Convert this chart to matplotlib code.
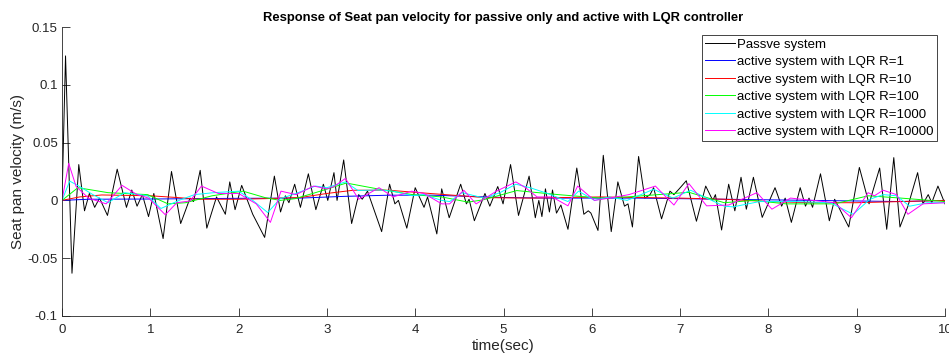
import matplotlib
matplotlib.use("Agg")
import matplotlib.pyplot as plt
from matplotlib.ticker import FixedLocator, FuncFormatter

plt.rcParams['font.family'] = ['Liberation Sans', 'DejaVu Sans']
plt.rcParams['axes.unicode_minus'] = False

title = "Response of Seat pan velocity for passive only and active with LQR controller"
xlabel = "time(sec)"
ylabel = "Seat pan velocity (m/s)"
labels = ["Passve system", "active system with LQR R=1", "active system with LQR R=10",
          "active system with LQR R=100", "active system with LQR R=1000",
          "active system with LQR R=10000"]
xticks = list(range(0, 11))
yticks = [-0.1, -0.05, 0, 0.05, 0.1, 0.15]

# (time, velocity) pairs
passive = [
    (0, 0), (0.04, 0.125), (0.113, -0.063), (0.19, 0.031), (0.255, -0.009), (0.31, 0.006),
    (0.37, -0.006), (0.425, 0.002), (0.515, -0.013), (0.625, 0.027), (0.73, -0.006),
    (0.79, 0.009), (0.85, -0.005), (0.91, 0.005), (0.98, -0.014), (1.04, 0.006),
    (1.145, -0.033), (1.24, 0.025), (1.344, -0.020), (1.45, 0.002), (1.49, -0.001),
    (1.565, 0.026), (1.64, -0.024), (1.75, 0.003), (1.85, -0.012), (1.90, 0.016),
    (1.96, -0.008), (2.035, 0.013), (2.16, -0.012), (2.295, -0.032), (2.405, 0.021),
    (2.475, -0.010), (2.53, 0.004), (2.57, -0.002), (2.635, 0.014), (2.70, -0.006),
    (2.79, 0.023), (2.875, -0.008), (2.96, 0.014), (3.01, 0.0), (3.08, 0.024),
    (3.115, 0.0), (3.19, 0.035), (3.28, -0.020), (3.36, 0.005), (3.40, 0.001),
    (3.46, 0.008), (3.62, -0.027), (3.71, 0.014), (3.77, -0.003), (3.81, 0.0),
    (3.905, -0.024), (4.0, 0.011), (4.10, -0.006), (4.14, 0.003), (4.245, -0.029),
    (4.30, 0.010), (4.385, -0.015), (4.515, 0.014), (4.58, -0.003), (4.61, 0.001),
    (4.67, -0.0176), (4.79, 0.006), (4.845, -0.005), (4.935, 0.012), (4.995, -0.003),
    (5.08, 0.031), (5.17, -0.013), (5.29, 0.021), (5.36, -0.015), (5.40, 0.0),
    (5.435, -0.014), (5.475, 0.010), (5.52, -0.010), (5.555, 0.009), (5.60, -0.011),
    (5.65, -0.004), (5.73, -0.025), (5.83, 0.028), (5.91, -0.012), (5.96, -0.009),
    (5.99, -0.011), (6.07, -0.026), (6.13, 0.039), (6.22, -0.027), (6.295, 0.016),
    (6.37, -0.005), (6.41, -0.003), (6.46, -0.023), (6.53, 0.038), (6.60, 0.002),
    (6.66, 0.005), (6.70, 0.011), (6.79, -0.016), (6.885, 0.008), (6.93, 0.005),
    (6.99, 0.010), (7.07, 0.017), (7.185, -0.018), (7.29, 0.0124), (7.37, 0.0),
    (7.40, 0.005), (7.47, -0.0256), (7.55, 0.014), (7.62, -0.009), (7.69, 0.020),
    (7.75, -0.0076), (7.83, 0.020), (7.93, -0.0147), (8.075, 0.011), (8.15, -0.005),
    (8.19, 0.002), (8.26, -0.019), (8.36, 0.011), (8.42, -0.005), (8.46, 0.002),
    (8.50, -0.006), (8.59, 0.023), (8.69, -0.0176), (8.75, 0.001), (8.91, -0.023),
    (9.03, 0.0285), (9.14, -0.003), (9.26, 0.028), (9.34, -0.025), (9.42, 0.037),
    (9.49, -0.023), (9.58, -0.005), (9.69, 0.024), (9.75, -0.003), (9.81, 0.005),
    (9.85, -0.002), (9.92, 0.0124), (10.0, -0.003),
]

lqr_r1 = [
    (0, 0), (0.3, 0.001), (1.0, 0.0012), (1.5, 0.0015), (2.0, 0.0018), (2.7, 0.002),
    (3.2, 0.0035), (3.7, 0.0045), (4.2, 0.0045), (4.6, 0.0035), (5.0, 0.0025),
    (5.5, 0.002), (6.2, 0.002), (6.5, 0.002), (7.0, 0.0015), (7.5, 0.001),
    (8.0, 0.0005), (8.5, 0.0), (9.0, -0.0005), (9.5, -0.001), (10.0, 0.0),
]

lqr_r10 = [
    (0, 0), (0.2, 0.003), (0.45, 0.0047), (1.0, 0.004), (1.3, 0.0025), (1.55, 0.001),
    (2.0, 0.001), (2.3, 0.0015), (2.7, 0.0025), (3.0, 0.006), (3.3, 0.0088),
    (3.7, 0.0088), (4.2, 0.0058), (4.8, 0.0024), (5.3, 0.002), (6.1, 0.003),
    (6.5, 0.0025), (7.0, 0.002), (7.5, 0.001), (8.0, -0.001), (8.5, -0.002),
    (9.0, -0.002), (9.5, -0.001), (10.0, 0.0),
]

lqr_r100 = [
    (0, 0), (0.18, 0.011), (0.52, 0.0067), (0.97, 0.005), (1.2, -0.003), (1.4, -0.002),
    (1.7, 0.004), (2.05, 0.008), (2.3, 0.0024), (2.47, 0.0), (2.64, 0.0015),
    (2.87, 0.0067), (3.22, 0.015), (3.6, 0.0096), (3.97, 0.005), (4.3, 0.003),
    (4.6, -0.0015), (4.77, 0.0005), (5.15, 0.0085), (5.62, 0.005), (6.1, 0.002),
    (6.4, 0.003), (6.75, 0.005), (7.1, 0.007), (7.5, -0.002), (7.83, 0.0),
    (8.2, -0.003), (8.75, -0.003), (9.13, 0.004), (9.5, 0.002), (10.0, -0.001),
]

lqr_r1000 = [
    (0, 0), (0.087, 0.0167), (0.2, 0.012), (0.35, 0.005), (0.52, -0.002), (0.71, 0.0067),
    (0.97, 0.004), (1.12, -0.007), (1.34, 0.0005), (1.5, 0.005), (1.72, 0.0067),
    (2.0, 0.008), (2.16, 0.0), (2.33, -0.0105), (2.47, 0.0014), (2.65, 0.006),
    (2.87, 0.0124), (3.0, 0.011), (3.21, 0.016), (3.35, 0.0086), (3.58, 0.009),
    (3.75, 0.008), (3.97, 0.004), (4.1, 0.005), (4.3, 0.0), (4.39, -0.001),
    (4.53, 0.0067), (4.78, 0.002), (4.96, 0.0067), (5.14, 0.014), (5.3, 0.011),
    (5.5, 0.006), (5.73, -0.001), (5.85, 0.008), (6.03, 0.0), (6.2, 0.003),
    (6.4, 0.0), (6.7, 0.0096), (6.92, 0.002), (7.12, 0.0088), (7.3, 0.002),
    (7.5, -0.005), (7.6, -0.0056), (7.9, -0.001), (8.3, -0.001), (8.7, -0.002),
    (8.96, -0.012), (9.15, 0.001), (9.3, 0.005), (9.45, 0.004), (9.6, -0.005),
    (9.8, -0.002), (10.0, -0.002),
]

lqr_r10000 = [
    (0, 0), (0.076, 0.032), (0.16, 0.012), (0.3, 0.002), (0.5, -0.003), (0.68, 0.013),
    (0.85, 0.005), (0.98, 0.002), (1.17, -0.0124), (1.3, -0.002), (1.45, -0.0005),
    (1.58, 0.0124), (1.77, 0.006), (2.0, 0.006), (2.2, -0.003), (2.36, -0.019),
    (2.48, 0.008), (2.65, 0.005), (2.85, 0.0124), (3.0, 0.010), (3.08, 0.012),
    (3.21, 0.019), (3.36, 0.001), (3.59, 0.011), (3.75, 0.003), (3.96, 0.008),
    (4.1, 0.006), (4.3, -0.003), (4.39, -0.003), (4.55, 0.0088), (4.69, -0.003),
    (4.92, 0.008), (5.14, 0.016), (5.25, 0.011), (5.38, 0.003), (5.55, 0.003),
    (5.73, -0.0047), (5.84, 0.0124), (6.03, 0.0), (6.2, 0.002), (6.42, 0.005),
    (6.72, 0.0124), (6.93, -0.004), (7.1, 0.0145), (7.3, -0.0047), (7.55, -0.004),
    (7.87, 0.0067), (8.04, -0.0076), (8.25, 0.002), (8.5, 0.0), (8.75, -0.002),
    (8.94, -0.015), (9.13, 0.0067), (9.2, 0.004), (9.3, 0.0088), (9.45, 0.005),
    (9.58, -0.012), (9.75, -0.003), (10.0, -0.002),
]

series = [passive, lqr_r1, lqr_r10, lqr_r100, lqr_r1000, lqr_r10000]
colors = ['#000000', '#0000ff', '#ff0000', '#00ff00', '#00ffff', '#ff00ff']

fig = plt.figure(figsize=(9.49, 3.58), dpi=100)
ax = fig.add_axes([62/949, 1 - 316/358, (945 - 62)/949, (316 - 27)/358])

for data, c, lab in zip(series, colors, labels):
    ts = [p[0] for p in data]
    vs = [p[1] for p in data]
    ax.plot(ts, vs, color=c, lw=0.7, label=lab)

ax.set_xlim(0, 10)
ax.set_ylim(-0.1, 0.15)
ax.xaxis.set_major_locator(FixedLocator(xticks))
ax.yaxis.set_major_locator(FixedLocator(yticks))
ax.yaxis.set_major_formatter(FuncFormatter(lambda v, p: "%g" % v))
for s in ['top', 'right']:
    ax.spines[s].set_visible(False)
for s in ['left', 'bottom']:
    ax.spines[s].set_color('#262626')
    ax.spines[s].set_linewidth(0.6)
ax.tick_params(direction='in', length=6, width=0.6, colors='#262626',
               labelsize=9.5, labelcolor='#262626')
ax.tick_params(axis='x', pad=6)
ax.tick_params(axis='y', pad=3)

ax.set_title(title, fontsize=9.4, fontweight='bold', pad=4)
ax.set_xlabel(xlabel, fontsize=11, color='#262626', labelpad=2)
ax.set_ylabel(ylabel, fontsize=11, color='#262626', labelpad=2)

leg = ax.legend(loc='upper right', bbox_to_anchor=((937 - 62)/883, (316 - 35)/289),
                fontsize=9.5, frameon=True, fancybox=False, framealpha=1,
                edgecolor='#262626', handlelength=2.3, handletextpad=0.15,
                labelspacing=0.4, borderpad=0.25, borderaxespad=0)
leg.get_frame().set_linewidth(0.6)

fig.savefig("out.png", dpi=100)
